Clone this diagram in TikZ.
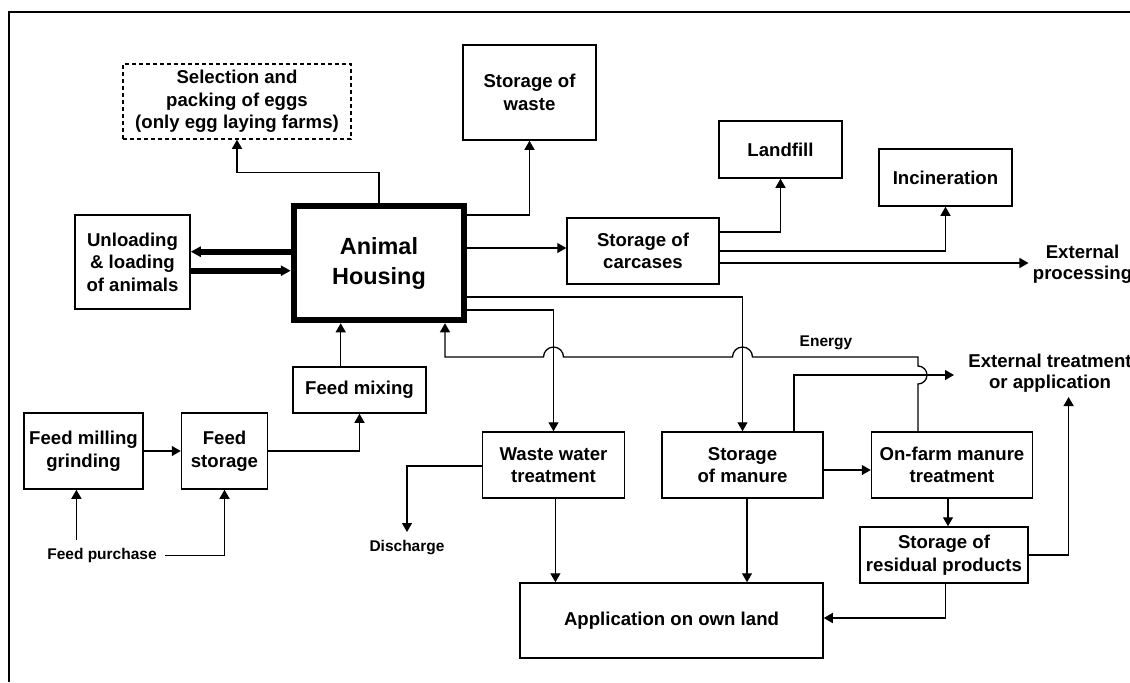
\documentclass[tikz,border=0pt]{standalone}
\usepackage{fontspec}
\setmainfont{Liberation Sans}
\usepackage{tikz}
\usetikzlibrary{arrows.meta,positioning}
\tikzstyle{process} = [rectangle, draw, line width=0.75pt, align=center, inner sep=2pt, font=\bfseries\fontsize{9.3}{11.25}\selectfont]
\tikzstyle{mainprocess} = [rectangle, draw, line width=3.25pt, align=center, font=\bfseries\fontsize{11.7}{15}\selectfont]
\tikzstyle{outlet} = [align=center, inner sep=2pt, font=\bfseries\fontsize{9.3}{10.5}\selectfont]
\tikzstyle{flowlabel} = [inner sep=4pt, font=\bfseries\fontsize{7.75}{9}\selectfont]
\tikzstyle{arrow} = [line width=0.65pt, -{Triangle[length=4.5pt,width=5pt]}]
\tikzstyle{bigarrow} = [line width=3pt, -{Triangle[length=5pt,width=5pt]}]

\begin{document}
\begin{tikzpicture}[x=0.5pt, y=-0.5pt]
\useasboundingbox (0,0) rectangle (1130,682);
\draw [line width=1pt] (9,682) -- (9,12) -- (1130,12);
% Housing
\node (housing) [mainprocess, minimum width=85pt, minimum height=57pt] at (379,263) {Animal\\Housing};
\node (sel) [process, dashed, dash pattern=on 2pt off 1.5pt, minimum width=114pt, minimum height=37.5pt] at (237,101.5) {Selection and\\packing of eggs\\(only egg laying farms)};
\node (waste) [process, minimum width=66.5pt, minimum height=47.5pt] at (529.5,92.5) {Storage of\\waste};
\node (unload) [process, minimum width=57.5pt, minimum height=47pt] at (132.5,262) {Unloading\\\& loading\\of animals};
% Carcases
\node (carc) [process, minimum width=76pt, minimum height=33pt] at (643,251) {Storage of\\carcases};
\node (landfill) [process, minimum width=61.5pt, minimum height=28.5pt] at (780.5,149.5) {Landfill};
\node (incin) [process, minimum width=66.5pt, minimum height=28.5pt] at (945.5,177.5) {Incineration};
\node (extproc) [outlet] at (1082.5,264) {External\\processing};
% Feed
\node (mixing) [process, minimum width=66.5pt, minimum height=23pt] at (359.5,390) {Feed mixing};
\node (milling) [process, minimum width=59.5pt, minimum height=38pt] at (83.5,451) {Feed milling\\grinding};
\node (fstore) [process, minimum width=43pt, minimum height=38pt, right=18.5pt of milling] {Feed\\storage};
\node (purchase) [flowlabel] at (102,555.7) {Feed purchase};
% Manure
\node (wwt) [process, minimum width=71pt, minimum height=33pt] at (553.5,465) {Waste water\\treatment};
\node (manure) [process, minimum width=80.5pt, minimum height=33pt] at (742.5,465) {Storage\\of manure};
\node (onfarm) [process, minimum width=80.5pt, minimum height=33pt, right=23.5pt of manure] {On-farm manure\\treatment};
\node (resid) [process, minimum width=84pt, minimum height=28pt] at (944,555) {Storage of\\residual products};
\node (appl) [process, minimum width=151.5pt, minimum height=37.5pt] at (671.5,620.5) {Application on own land};
\node (discharge) [flowlabel, anchor=north] at (407,532) {Discharge};
\node (energy) [flowlabel] at (826,343) {Energy};
\node (exttreat) [outlet] at (1050,373.5) {External treatment\\or application};
\coordinate (treatin) at (954,375);
\coordinate (applin) at (1068.6,397);

% Flows
\draw [bigarrow] (housing.west |- 0,251.7) -- (unload.east |- 0,251.7);
\draw [bigarrow] (unload.east |- 0,270.7) -- (housing.west |- 0,270.7);
\draw [arrow] (housing.north) -- ++(0,-30) -| (sel.south);
\draw [arrow] (housing.east |- 0,215) -| (waste.south);
\draw [arrow] (housing.east |- 0,248) -- (carc.west |- 0,248);
\draw [arrow] (carc.east |- 0,232) -| (landfill.south);
\draw [arrow] (carc.east |- 0,251) -| (incin.south);
\draw [arrow] (carc.east |- 0,263) -- (extproc.west |- 0,263);
\draw [arrow] (housing.east |- 0,310) -| (wwt.north);
\draw [arrow] (housing.east |- 0,297) -| (manure.north);
\draw [arrow] (milling.east) -- (fstore.west);
\draw [arrow] (fstore.east) -| (mixing.south);
\draw [arrow] (mixing.north -| 340.7,0) -- (housing.south -| 340.7,0);
\draw [arrow] (purchase.north -| 76.4,0) -- (milling.south -| 76.4,0);
\draw [arrow] (purchase.east) -| (fstore.south);
\draw [arrow] (onfarm.north -| 918,0) -- (918,384) arc[start angle=-90, end angle=90, radius=4.5pt] -- (918,357) -- (752.5,357) arc[start angle=0, end angle=180, radius=5pt] -- (563.5,357) arc[start angle=0, end angle=180, radius=5pt] -- (445,357) -- (housing.south -| 445,0);
\draw [arrow] (manure.north -| 794,0) |- (treatin);
\draw [arrow] (manure.east |- 0,470) -- (onfarm.west |- 0,470);
\draw [arrow] (onfarm.south -| 948,0) -- (resid.north -| 948,0);
\draw [arrow] (resid.east) -| (applin);
\draw [arrow] (resid.south -| 945.6,0) |- (appl.east |- 0,618);
\draw [arrow] (wwt.south -| 555.4,0) -- (appl.north -| 555.4,0);
\draw [arrow] (manure.south -| 747,0) -- (appl.north -| 747,0);
\draw [arrow] (wwt.west |- 0,466) -| (discharge.north);
\end{tikzpicture}
\end{document}
